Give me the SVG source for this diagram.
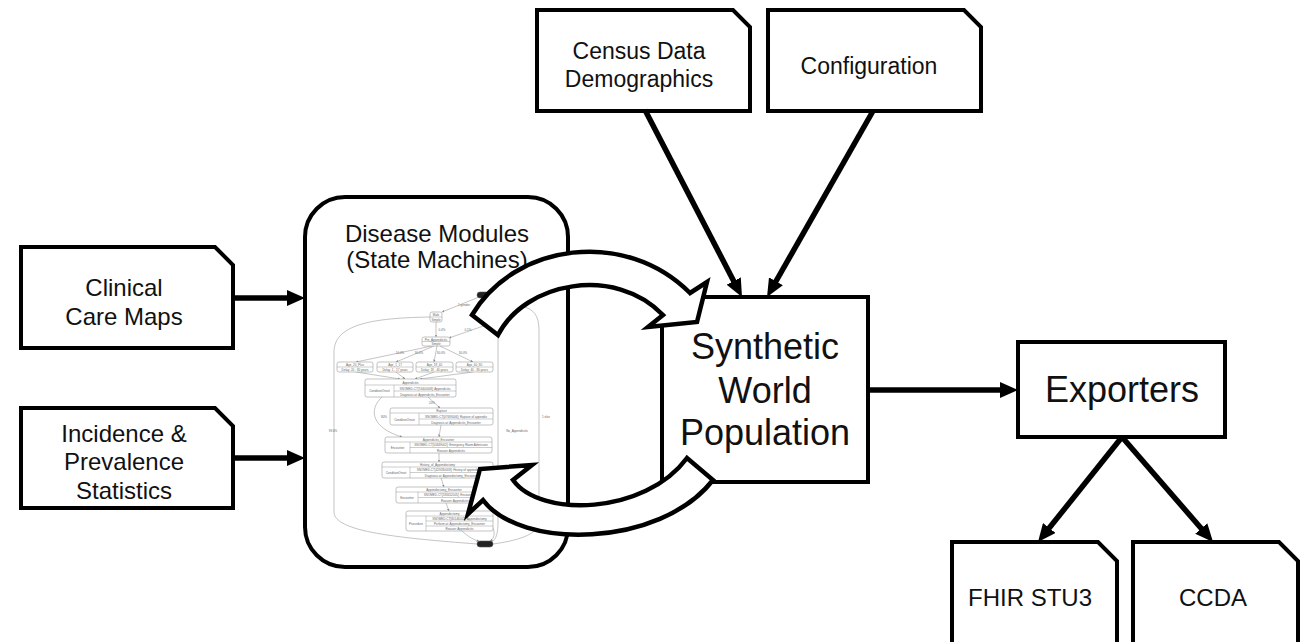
<svg xmlns="http://www.w3.org/2000/svg" width="1307" height="642" viewBox="0 0 1307 642">
  <style>
    .doc { fill: #fff; stroke: #000; stroke-width: 4; stroke-linejoin: miter; }
    .box { fill: #fff; stroke: #000; stroke-width: 4; }
    .lbl { font-family: "Liberation Sans", Arial, Helvetica, sans-serif; fill: #111; text-anchor: middle; }
    .conn { stroke: #000; stroke-width: 5.5; fill: none; }
    .band { fill: #fff; stroke: #000; stroke-width: 4.5; stroke-linejoin: miter; }
    .g-node { fill: #fff; stroke: #9a9a9a; stroke-width: 0.6; }
    .g-div { stroke: #9a9a9a; stroke-width: 0.5; fill: none; }
    .g-edge { fill: none; stroke: #aaa; stroke-width: 0.7; }
    .g-term { fill: #222; stroke: #555; stroke-width: 0.6; }
    .g-txt { font-family: "Liberation Sans", Arial, sans-serif; font-size: 3px; fill: #666; text-anchor: middle; }
  </style>
  <defs>
    <marker id="head" viewBox="0 0 18 16" refX="10" refY="8" markerWidth="18" markerHeight="16" markerUnits="userSpaceOnUse" orient="auto">
      <path d="M0,0 L18,8 L0,16 Z" fill="#000"/>
    </marker>
    <marker id="tiny" viewBox="0 0 4 4" refX="4" refY="2" markerWidth="2.5" markerHeight="2.5" markerUnits="userSpaceOnUse" orient="auto">
      <path d="M0,0 L4,2 L0,4 Z" fill="#888"/>
    </marker>
  </defs>

  <rect x="0" y="0" width="1307" height="642" fill="#fff"/>

  <!-- input documents -->
  <g id="census">
    <path class="doc" d="M537,10 H733 L750,27 V111 H537 Z"/>
    <text class="lbl" font-size="23" x="639" y="59">Census Data</text>
    <text class="lbl" font-size="23" x="639" y="87">Demographics</text>
  </g>
  <g id="configuration">
    <path class="doc" d="M768,10 H964 L981,27 V111 H768 Z"/>
    <text class="lbl" font-size="23" x="869" y="74">Configuration</text>
  </g>
  <g id="care-maps">
    <path class="doc" d="M21,247 H215 L233,265 V348 H21 Z"/>
    <text class="lbl" font-size="24" x="124" y="296">Clinical</text>
    <text class="lbl" font-size="24" x="124" y="325">Care Maps</text>
  </g>
  <g id="statistics">
    <path class="doc" d="M21,408 H215 L233,426 V508 H21 Z"/>
    <text class="lbl" font-size="24" x="124" y="442">Incidence &amp;</text>
    <text class="lbl" font-size="24" x="124" y="470">Prevalence</text>
    <text class="lbl" font-size="24" x="124" y="499">Statistics</text>
  </g>

  <!-- disease modules with the embedded state machine graph -->
  <g id="disease-modules">
    <rect class="box" x="305" y="197" width="263" height="370" rx="40" ry="40"/>
    <text class="lbl" font-size="24" x="437" y="242">Disease Modules</text>
    <text class="lbl" font-size="24" x="437" y="268">(State Machines)</text>

    <g id="state-graph">
      <!-- edges -->
      <path class="g-edge" d="M479,297 L442,312" marker-end="url(#tiny)"/>
      <path class="g-edge" d="M436,322 L436,337" marker-end="url(#tiny)"/>
      <path class="g-edge" d="M492,323 L449,338" marker-end="url(#tiny)"/>
      <path class="g-edge" d="M430,317 C380,318 334,322 334,352 L334,512 C334,532 400,538 477,544"/>
      <path class="g-edge" d="M493,314 C497,318 498,326 498,340 L498,522 C498,534 496,539 492,542"/>
      <path class="g-edge" d="M520,306 C534,308 539,316 539,330 L539,522 C539,535 515,541 493,544"/>
      <path class="g-edge" d="M432,346 L356,362" marker-end="url(#tiny)"/>
      <path class="g-edge" d="M434,346 L396,362" marker-end="url(#tiny)"/>
      <path class="g-edge" d="M437,346 L434,362" marker-end="url(#tiny)"/>
      <path class="g-edge" d="M440,346 L473,362" marker-end="url(#tiny)"/>
      <path class="g-edge" d="M356,372 L400,379" marker-end="url(#tiny)"/>
      <path class="g-edge" d="M396,372 L405,379" marker-end="url(#tiny)"/>
      <path class="g-edge" d="M434,372 L415,379" marker-end="url(#tiny)"/>
      <path class="g-edge" d="M473,372 L420,379" marker-end="url(#tiny)"/>
      <path class="g-edge" d="M428,397 L440,408" marker-end="url(#tiny)"/>
      <path class="g-edge" d="M382,397 C368,410 372,428 402,437" marker-end="url(#tiny)"/>
      <path class="g-edge" d="M441,425 L439,437" marker-end="url(#tiny)"/>
      <path class="g-edge" d="M439,453 L439,462" marker-end="url(#tiny)"/>
      <path class="g-edge" d="M441,478 L444,487" marker-end="url(#tiny)"/>
      <path class="g-edge" d="M446,503 L449,511" marker-end="url(#tiny)"/>
      <path class="g-edge" d="M462,531 C470,538 474,540 479,541" marker-end="url(#tiny)"/>
      <path class="g-edge" d="M492,526 C496,533 494,539 490,541" marker-end="url(#tiny)"/>

      <!-- edge labels -->
      <text class="g-txt" x="464" y="306">1 gender</text>
      <text class="g-txt" x="442" y="331">0.4%</text>
      <text class="g-txt" x="468" y="331">0.1%</text>
      <text class="g-txt" x="400" y="354">10.0%</text>
      <text class="g-txt" x="419" y="354">30.0%</text>
      <text class="g-txt" x="441" y="354">30.0%</text>
      <text class="g-txt" x="463" y="354">30.0%</text>
      <text class="g-txt" x="432" y="404">20%</text>
      <text class="g-txt" x="384" y="418">80%</text>
      <text class="g-txt" x="333" y="432">99.6%</text>
      <text class="g-txt" x="517" y="432">No_Appendicitis</text>
      <text class="g-txt" x="546" y="418">1 else</text>

      <!-- states -->
      <rect class="g-term" x="477" y="292" width="12" height="6" rx="3"/>

      <rect class="g-node" x="430" y="312" width="12" height="10" rx="2"/>
      <line class="g-div" x1="430" y1="317" x2="442" y2="317"/>
      <text class="g-txt" x="436" y="316">Male</text>
      <text class="g-txt" x="436" y="321">Simple</text>

      <rect class="g-node" x="422" y="337" width="28" height="9" rx="2"/>
      <line class="g-div" x1="422" y1="341.5" x2="450" y2="341.5"/>
      <text class="g-txt" x="436" y="340.5">Pre_Appendicitis</text>
      <text class="g-txt" x="436" y="345">Simple</text>

      <rect class="g-node" x="337" y="362" width="36" height="10" rx="2"/>
      <line class="g-div" x1="337" y1="367" x2="373" y2="367"/>
      <text class="g-txt" x="355" y="366">Age_20_Plus</text>
      <text class="g-txt" x="355" y="371">Delay: 20 - 80 years</text>
      <rect class="g-node" x="377" y="362" width="36" height="10" rx="2"/>
      <line class="g-div" x1="377" y1="367" x2="413" y2="367"/>
      <text class="g-txt" x="395" y="366">Age_1_17</text>
      <text class="g-txt" x="395" y="371">Delay: 1 - 17 years</text>
      <rect class="g-node" x="416" y="362" width="37" height="10" rx="2"/>
      <line class="g-div" x1="416" y1="367" x2="453" y2="367"/>
      <text class="g-txt" x="434.5" y="366">Age_18_40</text>
      <text class="g-txt" x="434.5" y="371">Delay: 18 - 40 years</text>
      <rect class="g-node" x="456" y="362" width="37" height="10" rx="2"/>
      <line class="g-div" x1="456" y1="367" x2="493" y2="367"/>
      <text class="g-txt" x="474.5" y="366">Age_40_80</text>
      <text class="g-txt" x="474.5" y="371">Delay: 40 - 80 years</text>

      <rect class="g-node" x="365" y="379" width="91" height="18" rx="2"/>
      <path class="g-div" d="M365,385 H456 M394,385 V397 M394,391 H456"/>
      <text class="g-txt" x="410.5" y="383.5">Appendicitis</text>
      <text class="g-txt" x="379.5" y="392">ConditionOnset</text>
      <text class="g-txt" x="425" y="389.5">SNOMED-CT[74400008]: Appendicitis</text>
      <text class="g-txt" x="425" y="395.5">Diagnosis at: Appendicitis_Encounter</text>

      <rect class="g-node" x="390" y="408" width="103" height="17" rx="2"/>
      <path class="g-div" d="M390,413 H493 M419,413 V425 M419,419 H493"/>
      <text class="g-txt" x="441.5" y="412">Rupture</text>
      <text class="g-txt" x="404.5" y="420.5">ConditionOnset</text>
      <text class="g-txt" x="456" y="417.5">SNOMED-CT[47693006]: Rupture of appendix</text>
      <text class="g-txt" x="456" y="423.5">Diagnosis at: Appendicitis_Encounter</text>

      <rect class="g-node" x="385" y="437" width="107" height="16" rx="2"/>
      <path class="g-div" d="M385,442 H492 M410,442 V453 M410,447.5 H492"/>
      <text class="g-txt" x="438.5" y="441">Appendicitis_Encounter</text>
      <text class="g-txt" x="397.5" y="449">Encounter</text>
      <text class="g-txt" x="451" y="446">SNOMED-CT[50849002]: Emergency Room Admission</text>
      <text class="g-txt" x="451" y="451.5">Reason: Appendicitis</text>

      <rect class="g-node" x="382" y="462" width="111" height="16" rx="2"/>
      <path class="g-div" d="M382,467 H493 M410,467 V478 M410,472.5 H493"/>
      <text class="g-txt" x="437.5" y="466">History_of_Appendectomy</text>
      <text class="g-txt" x="396" y="474">ConditionOnset</text>
      <text class="g-txt" x="451.5" y="471">SNOMED-CT[429280009]: History of appendectomy</text>
      <text class="g-txt" x="451.5" y="476.5">Diagnosis at: Appendectomy_Encounter</text>

      <rect class="g-node" x="396" y="487" width="96" height="16" rx="2"/>
      <path class="g-div" d="M396,492 H492 M418,492 V503 M418,497.5 H492"/>
      <text class="g-txt" x="444" y="491">Appendectomy_Encounter</text>
      <text class="g-txt" x="407" y="499">Encounter</text>
      <text class="g-txt" x="455" y="496">SNOMED-CT[183452005]: Encounter Inpatient</text>
      <text class="g-txt" x="455" y="501.5">Reason: Appendicitis</text>

      <rect class="g-node" x="406" y="511" width="87" height="20" rx="2"/>
      <path class="g-div" d="M406,516 H493 M426,516 V531 M426,521 H493 M426,526 H493"/>
      <text class="g-txt" x="449.5" y="515">Appendectomy</text>
      <text class="g-txt" x="416" y="525">Procedure</text>
      <text class="g-txt" x="459.5" y="520">SNOMED-CT[80146002]: Appendectomy</text>
      <text class="g-txt" x="459.5" y="525">Perform at: Appendectomy_Encounter</text>
      <text class="g-txt" x="459.5" y="530">Reason: Appendicitis</text>

      <rect class="g-term" x="477" y="541" width="16" height="6" rx="3"/>
    </g>
  </g>

  <g id="synthetic-world-population">
    <rect class="box" x="662" y="297" width="206" height="185" stroke-width="3.5"/>
    <text class="lbl" font-size="36" x="765" y="359">Synthetic</text>
    <text class="lbl" font-size="36" x="765" y="403">World</text>
    <text class="lbl" font-size="36" x="765" y="445">Population</text>
  </g>

  <g id="exporters">
    <rect class="box" x="1018" y="342" width="207" height="95" stroke-width="3.5"/>
    <text class="lbl" font-size="36" x="1122" y="402">Exporters</text>
  </g>

  <g id="fhir-stu3">
    <path class="doc" d="M952,542 H1098 L1117,561 V660 H952 Z"/>
    <text class="lbl" font-size="24" x="1030" y="606">FHIR STU3</text>
  </g>
  <g id="ccda">
    <path class="doc" d="M1133,542 H1279 L1298,561 V660 H1133 Z"/>
    <text class="lbl" font-size="24" x="1213" y="606">CCDA</text>
  </g>

  <!-- connectors -->
  <g id="connectors">
    <line class="conn" x1="645" y1="110" x2="738.3" y2="289.9" marker-end="url(#head)"/>
    <line class="conn" x1="873" y1="111" x2="771" y2="290" marker-end="url(#head)"/>
    <line class="conn" x1="233" y1="298" x2="297" y2="298" marker-end="url(#head)"/>
    <line class="conn" x1="233" y1="458" x2="297" y2="458" marker-end="url(#head)"/>
    <line class="conn" x1="868" y1="390" x2="1010" y2="390" marker-end="url(#head)"/>
    <line class="conn" x1="1122" y1="437" x2="1043" y2="535.8" marker-end="url(#head)"/>
    <line class="conn" x1="1122" y1="437" x2="1207.8" y2="536" marker-end="url(#head)"/>

    <!-- cycle between the modules and the population -->
    <path class="band" d="M472,315 C515,243 625,228 690,293 L707,282 L697,322 L648,327 L663,315 C615,265 525,282 498,335 Z"/>
    <path class="band" d="M713,480 C660,548 520,550 483,500 L468,514 L480,469 L532,465 L513,480 C540,518 645,515 687,458 Z"/>
  </g>
</svg>
